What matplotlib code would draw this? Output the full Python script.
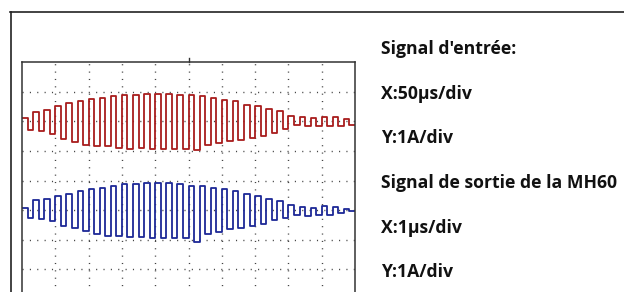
import numpy as np
import matplotlib.pyplot as plt
from matplotlib.lines import Line2D

# Oscilloscope traces, read per cycle (in divisions, 1A/div) relative to each trace's centre
red_highs = [0.11, 0.30, 0.39, 0.51, 0.60, 0.68, 0.75, 0.79, 0.84, 0.90,
             0.90, 0.93, 0.93, 0.93, 0.90, 0.87, 0.84, 0.79, 0.73, 0.68,
             0.56, 0.51, 0.42, 0.34, 0.19, 0.15, 0.11, 0.15, 0.15, 0.08]
red_lows = [-0.28, -0.34, -0.42, -0.60, -0.71, -0.79, -0.82, -0.84, -0.90, -0.93,
            -0.90, -0.93, -0.93, -0.93, -0.93, -0.98, -0.79, -0.73, -0.68, -0.62,
            -0.56, -0.51, -0.39, -0.26, -0.11, -0.15, -0.15, -0.17, -0.15, -0.11]
blue_highs = [0.08, 0.34, 0.38, 0.47, 0.56, 0.64, 0.70, 0.75, 0.81, 0.87,
              0.87, 0.92, 0.92, 0.90, 0.87, 0.83, 0.81, 0.75, 0.70, 0.64,
              0.53, 0.47, 0.38, 0.30, 0.16, 0.11, 0.08, 0.13, 0.11, 0.05]
blue_lows = [-0.26, -0.29, -0.37, -0.52, -0.60, -0.71, -0.79, -0.86, -0.88, -0.90,
             -0.90, -0.93, -0.93, -0.93, -0.93, -1.07, -0.79, -0.74, -0.65, -0.60,
             -0.54, -0.48, -0.34, -0.26, -0.15, -0.20, -0.18, -0.15, -0.11, -0.03]

labels = ["Signal d'entrée:", "X:50µs/div", "Y:1A/div",
          "Signal de sortie de la MH60", "X:1µs/div", "Y:1A/div"]

red_offset = 2.0
blue_offset = -1.0

W, H = 624, 292
fig = plt.figure(figsize=(W / 100, H / 100), dpi=100)

ax = fig.add_axes([22 / W, 1 - 299 / H, 333 / W, 237 / H])
ax.set_xlim(0, 10)
ax.set_ylim(-4, 4)
ax.set_xticks([])
ax.set_yticks([])
for s in ax.spines.values():
    s.set_color('#333333')
    s.set_linewidth(1.1)

# dotted graticule
for gx in range(1, 10):
    ax.axvline(gx, color='#444444', lw=1.0, linestyle=(0, (0.8, 4.5)))
for gy in range(-3, 4):
    ax.axhline(gy, color='#444444', lw=1.0, linestyle=(0, (0.8, 4.5)))
ax.plot([5, 5], [4, 4.15], color='#333333', lw=1.0, clip_on=False)


def trace(highs, lows):
    levels = []
    for h, l in zip(highs, lows):
        levels += [h, l]
    levels.append(levels[-1])
    t = np.arange(len(levels)) * 10 / (len(levels) - 1)
    return t, np.array(levels)


t, v = trace(red_highs, red_lows)
ax.step(t, v + red_offset, where='post', color='#a81c1c', lw=1.3)
t, v = trace(blue_highs, blue_lows)
ax.step(t, v + blue_offset, where='post', color='#1c2896', lw=1.3)

# outer frame
fig.add_artist(Line2D([10 / W, 1], [1 - 12 / H, 1 - 12 / H], color='#222222', lw=1.2))
fig.add_artist(Line2D([10.5 / W, 10.5 / W], [0, 1 - 12 / H], color='#222222', lw=1.2))

baselines = [54, 99.3, 142.7, 188.3, 232.7, 276.7]
for txt, b in zip(labels, baselines):
    fig.text(381 / W, 1 - b / H, txt, fontsize=12.7, fontweight='bold',
             family='Open Sans', va='baseline', ha='left', color='#111111')

fig.savefig('out.png', dpi=100)
